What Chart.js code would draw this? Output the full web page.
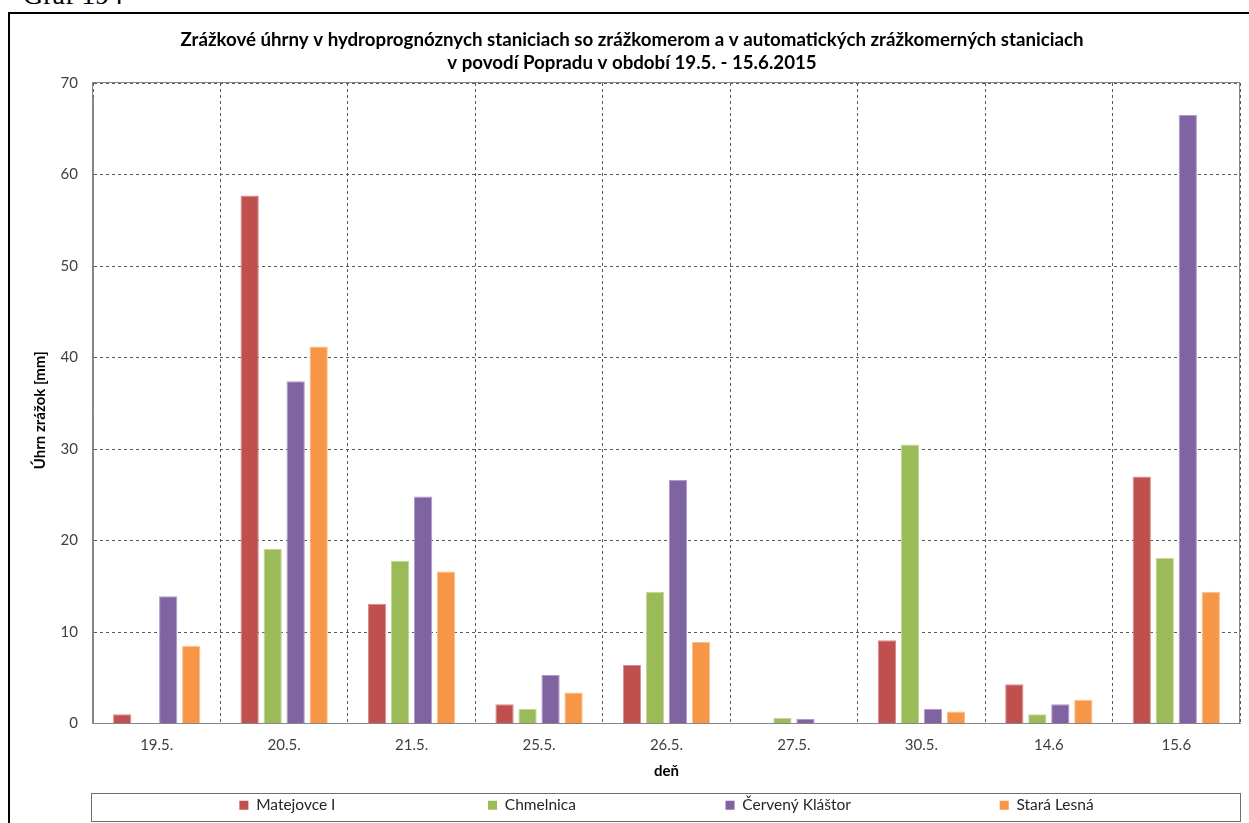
<!DOCTYPE html>
<html><head><meta charset="utf-8">
<script src="https://cdn.jsdelivr.net/npm/chart.js@4/dist/chart.umd.min.js"></script>
<style>
html,body{margin:0;padding:0;background:#fff;overflow:hidden;}
#wrap{position:relative;width:1249px;height:823px;}
#graf{position:absolute;left:23px;top:-21px;font-family:"Liberation Serif";font-size:28px;color:#000;line-height:32px;}
#frame{position:absolute;left:8px;top:12px;width:1270px;height:840px;border:2px solid #000;box-sizing:border-box;}
canvas{position:absolute;left:0;top:0;}
</style></head>
<body><div id="wrap"><div id="graf">Graf 194</div><div id="frame"></div><canvas id="c" width="1249" height="823"></canvas></div>
<script>
const categories = ['19.5.', '20.5.', '21.5.', '25.5.', '26.5.', '27.5.', '30.5.', '14.6', '15.6'];
const seriesNames = ['Matejovce I', 'Chmelnica', 'Červený Kláštor', 'Stará Lesná'];
const matejovce = [1.0, 57.7, 13.1, 2.1, 6.4, 0, 9.1, 4.3, 27.0];
const chmelnica = [0, 19.1, 17.8, 1.6, 14.4, 0.6, 30.5, 1.0, 18.1];
const cervenyKlastor = [13.9, 37.4, 24.8, 5.3, 26.6, 0.5, 1.6, 2.1, 66.5];
const staraLesna = [8.5, 41.2, 16.6, 3.4, 8.9, 0, 1.3, 2.6, 14.4];
const yTicks = [0, 10, 20, 30, 40, 50, 60, 70];
const titleLines = ['Zrážkové úhrny v hydroprognóznych staniciach so zrážkomerom a v automatických zrážkomerných staniciach', 'v povodí Popradu v období 19.5. - 15.6.2015'];
const yTitle = 'Úhrn zrážok [mm]';
const xTitle = 'deň';

const fills = ['#C0504D', '#9BBB59', '#8064A2', '#F79646'];
const edges = ['#D68E8C', '#C3D69B', '#AE9DC6', '#F9BE8E'];
const seriesValues = [matejovce, chmelnica, cervenyKlastor, staraLesna];

const FONT = 'Lato';
const legendCols = [248, 237, 274];

const framePlugin = {
  id: 'framePlugin',
  afterLayout(chart) {
    if (chart.titleBlock) chart.titleBlock.left = 24;
    const y = chart.scales.y;
    if (y) { y.top += 14; y.bottom += 0; }
  },
  afterDraw(chart) {
    const ctx = chart.ctx, a = chart.chartArea, lg = chart.legend;
    ctx.save();
    ctx.strokeStyle = '#868686';
    ctx.lineWidth = 1;
    ctx.setLineDash([]);
    ctx.strokeRect(Math.round(a.left) - 0.5, Math.round(a.top) - 0.5, Math.round(a.right - a.left), Math.round(a.bottom - a.top) + 1);
    ctx.strokeStyle = '#6e6e6e';
    ctx.strokeRect(Math.round(lg.left) - 1.5, Math.round(lg.top) + 11.5, Math.round(lg.right - lg.left) + 2, 28);
    ctx.restore();
  }
};

new Chart(document.getElementById('c'), {
  type: 'bar',
  data: {
    labels: categories,
    datasets: seriesValues.map((v, i) => ({
      label: seriesNames[i],
      data: v,
      backgroundColor: fills[i],
      borderColor: edges[i],
      borderWidth: 1,
      categoryPercentage: 0.722,
      barPercentage: 0.795
    }))
  },
  options: {
    responsive: false,
    animation: false,
    devicePixelRatio: 1,
    layout: { padding: { left: 0, right: 9, top: 0, bottom: 0 } },
    plugins: {
      title: {
        display: true,
        text: titleLines,
        color: '#000',
        font: { family: FONT, size: 18.7, weight: 'bold', lineHeight: 1.23 },
        padding: { top: 28.5, bottom: 8.5 }
      },
      legend: {
        position: 'bottom',
        fullSize: false,
        maxHeight: 42,
        labels: {
          boxWidth: 9,
          boxHeight: 9,
          padding: 16,
          color: '#262626',
          font: { family: FONT, size: 15.5 },
          generateLabels(chart) {
            const items = Chart.defaults.plugins.legend.labels.generateLabels(chart);
            const ctx = chart.ctx;
            ctx.save();
            ctx.font = '15.5px ' + FONT;
            items.forEach((it, i) => {
              it.lineWidth = 0;
              it.strokeStyle = 'rgba(0,0,0,0)';
              if (i < legendCols.length) {
                let t = it.text;
                while (9 + 7.75 + ctx.measureText(t).width + 16 < legendCols[i]) t += '\u200A';
                it.text = t;
              }
            });
            ctx.restore();
            return items;
          }
        }
      },
      tooltip: { enabled: false }
    },
    scales: {
      x: {
        grid: { display: true, offset: true, color: '#595959', lineWidth: 1, drawTicks: false },
        border: { display: true, color: '#868686', width: 1, dash: [3, 3] },
        ticks: { color: '#404040', font: { family: FONT, size: 15 }, padding: 13 },
        title: { display: true, text: xTitle, color: '#000', font: { family: FONT, size: 15, weight: 'bold' }, padding: { top: 0, bottom: 1 } },
        afterFit(s) { s.height = 58; }
      },
      y: {
        min: 0, max: 70,
        afterBuildTicks(s) { s.ticks = yTicks.map(v => ({ value: v })); },
        grid: { color: '#595959', lineWidth: 1, drawTicks: false },
        border: { display: true, color: '#868686', width: 1, dash: [3, 3] },
        ticks: { color: '#404040', font: { family: FONT, size: 15 }, padding: 15 },
        title: { display: true, text: yTitle, color: '#000', font: { family: FONT, size: 15, weight: 'bold' }, padding: { top: 31, bottom: 0 } },
        afterFit(s) { s.width = 93; }
      }
    }
  },
  plugins: [framePlugin]
});
</script>
</body></html>
